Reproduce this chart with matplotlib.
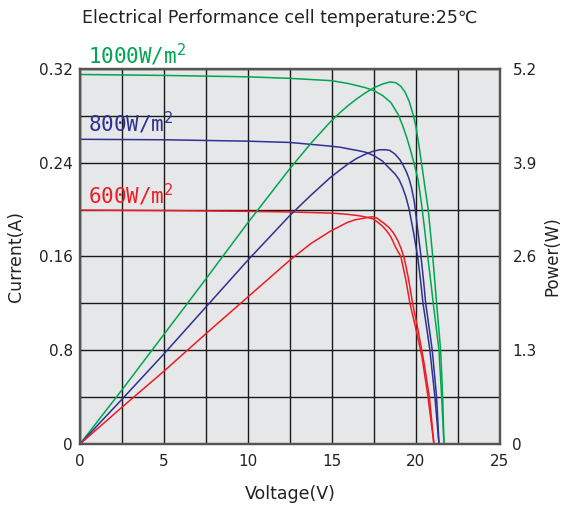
import matplotlib
matplotlib.use('Agg')
import matplotlib.pyplot as plt
import numpy as np

# values
v_iv_1000 = [0, 5, 10, 12.5, 15, 16, 16.5, 17, 17.5, 18, 18.5, 18.95, 19.2, 19.44, 19.65, 19.84, 20.0, 20.13,
             20.25, 20.34, 20.5, 20.7, 20.87, 21.03, 21.2, 21.37, 21.53, 21.67]
i_1000 = [0.3153, 0.3145, 0.3133, 0.312, 0.310, 0.3075, 0.3058, 0.304, 0.3015, 0.2975, 0.2915, 0.281, 0.272, 0.262,
          0.252, 0.242, 0.233, 0.225, 0.213, 0.204, 0.185, 0.160, 0.140, 0.120, 0.100, 0.080, 0.040, 0]
v_p_1000 = [0, 2.5, 5, 7.5, 10, 12.5, 13.75, 14.88, 15.5, 16, 16.5, 17, 17.5, 18, 18.45, 18.8, 19.1, 19.35, 19.6,
            19.84, 20.0, 20.17, 20.34, 20.5, 20.73, 21.0, 21.23, 21.35, 21.47, 21.59, 21.67]
p_1000 = [0, 0.75, 1.52, 2.29, 3.07, 3.82, 4.17, 4.46, 4.60, 4.70, 4.79, 4.87, 4.94, 4.99, 5.02, 5.01, 4.96, 4.88,
          4.75, 4.56, 4.40, 4.15, 3.88, 3.62, 3.25, 2.6, 1.95, 1.62, 1.3, 0.65, 0]

v_iv_800 = [0, 5, 10, 12.5, 14.88, 15.5, 16, 16.5, 17, 17.5, 18, 18.4, 18.75, 19.0, 19.2, 19.4, 19.6, 19.85, 20.1,
            20.27, 20.42, 20.63, 20.83, 21.13, 21.37]
i_800 = [0.260, 0.2596, 0.2584, 0.2573, 0.2542, 0.2532, 0.2518, 0.2505, 0.249, 0.246, 0.2415, 0.2355, 0.2305,
         0.2255, 0.219, 0.211, 0.200, 0.181, 0.160, 0.140, 0.120, 0.100, 0.080, 0.040, 0]
v_p_800 = [0, 2.5, 5, 7.5, 10, 12.5, 13.75, 14.88, 15.48, 16, 16.47, 17, 17.46, 17.86, 18.2, 18.45, 18.75, 19.05,
           19.25, 19.44, 19.6, 19.74, 19.9, 20.1, 20.3, 20.45, 20.58, 20.78, 20.97, 21.23, 21.37]
p_800 = [0, 0.62, 1.25, 1.90, 2.55, 3.17, 3.45, 3.69, 3.80, 3.89, 3.96, 4.02, 4.06, 4.08, 4.08, 4.07, 4.02, 3.94,
         3.86, 3.77, 3.67, 3.55, 3.36, 2.98, 2.6, 2.27, 1.95, 1.62, 1.3, 0.65, 0]

v_iv_600 = [0, 5, 10, 12.5, 15, 15.9, 16.5, 16.9, 17.2, 17.46, 17.75, 18.0, 18.25, 18.45, 18.6, 18.75, 18.9, 19.1,
            19.4, 19.64, 20.0, 20.35, 20.7, 21.07]
i_600 = [0.1996, 0.1992, 0.1985, 0.198, 0.197, 0.196, 0.195, 0.194, 0.193, 0.192, 0.189, 0.186, 0.182, 0.178,
         0.174, 0.169, 0.165, 0.160, 0.140, 0.120, 0.098, 0.075, 0.042, 0]
v_p_600 = [0, 2.5, 5, 7.5, 10, 12.5, 13.75, 14.9, 15.4, 15.9, 16.4, 16.9, 17.2, 17.46, 17.7, 17.86, 18.1, 18.4,
           18.65, 18.9, 19.1, 19.3, 19.55, 19.8, 20.15, 20.5, 20.8, 21.07]
p_600 = [0, 0.51, 1.01, 1.53, 2.04, 2.55, 2.78, 2.95, 3.01, 3.07, 3.11, 3.13, 3.145, 3.15, 3.13, 3.10, 3.06, 3.00,
         2.93, 2.83, 2.72, 2.58, 2.3, 1.95, 1.55, 1.1, 0.65, 0]

x_ticks = [0, 5, 10, 15, 20, 25]
i_ticks = [0, 0.08, 0.16, 0.24, 0.32]
i_labels = ['0', '0.8', '0.16', '0.24', '0.32']
p_ticks = [0, 1.3, 2.6, 3.9, 5.2]
p_labels = ['0', '1.3', '2.6', '3.9', '5.2']

green = '#00a651'
blue = '#2e3192'
red = '#ed1c24'
txt = '#222222'

fig = plt.figure(figsize=(5.66, 5.14), dpi=100)
ax = fig.add_axes([0.1413, 0.1362, 0.742, 0.7296])
ax.set_facecolor('#e6e7e8')

ax.set_xlim(0, 25)
ax.set_ylim(0, 0.32)
ax.set_xticks(x_ticks)
ax.set_xticks(np.arange(0, 25.1, 2.5), minor=True)
ax.set_yticks(i_ticks)
ax.set_yticklabels(i_labels)
ax.set_yticks(np.arange(0, 0.321, 0.04), minor=True)
ax.grid(True, which='both', color='#1a1a1a', linewidth=1.0)
ax.set_axisbelow(True)
ax.tick_params(which='both', length=0, labelsize=11, labelcolor=txt)
ax.tick_params(axis='x', pad=7)
ax.tick_params(axis='y', pad=5)

ax.plot(v_iv_1000, i_1000, color=green, lw=1.1)
ax.plot(v_iv_800, i_800, color=blue, lw=1.1)
ax.plot(v_iv_600, i_600, color=red, lw=1.1)

ax2 = ax.twinx()
ax2.set_ylim(0, 5.2)
ax2.set_yticks(p_ticks)
ax2.set_yticklabels(p_labels)
ax2.tick_params(length=0, labelsize=11, labelcolor=txt, pad=9)
ax2.plot(v_p_1000, p_1000, color=green, lw=1.1)
ax2.plot(v_p_800, p_800, color=blue, lw=1.1)
ax2.plot(v_p_600, p_600, color=red, lw=1.1)

for a in (ax, ax2):
    for s in a.spines.values():
        s.set_color('#555555')
        s.set_linewidth(1.6)

ax.text(0.45, 0.3247, '1000W/m$^2$', color=green, fontsize=15, family='DejaVu Sans Mono', va='baseline')
ax.text(0.45, 0.2664, '800W/m$^2$', color=blue, fontsize=15, family='DejaVu Sans Mono', va='baseline')
ax.text(0.45, 0.2053, '600W/m$^2$', color=red, fontsize=15, family='DejaVu Sans Mono', va='baseline')

ax.set_xlabel('Voltage(V)', fontsize=12.5, color=txt, labelpad=12)
ax.set_ylabel('Current(A)', fontsize=12.5, color=txt, labelpad=10)
ax2.set_ylabel('Power(W)', fontsize=12, color=txt, labelpad=5)

fig.text(0.495, 0.965, 'Electrical Performance cell temperature:25\u2103', fontsize=12.5, color=txt,
         ha='center', va='center')

fig.savefig('out.png', dpi=100)
